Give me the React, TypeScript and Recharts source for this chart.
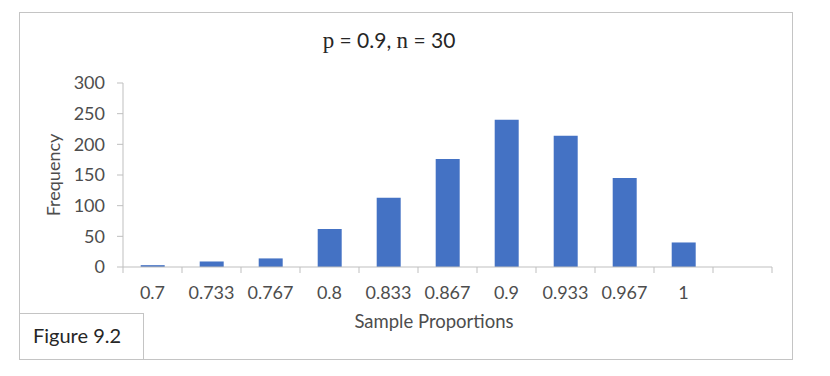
import React from 'react';
import { BarChart, Bar, XAxis, YAxis } from 'recharts';

const categories = ['0.7', '0.733', '0.767', '0.8', '0.833', '0.867', '0.9', '0.933', '0.967', '1', ''];
const frequencies: (number | null)[] = [3, 9, 14, 62, 113, 176, 240, 214, 145, 40, null];
const yTicks = [0, 50, 100, 150, 200, 250, 300];

const title = { p: 'p', pVal: ' = 0.9, ', n: 'n', nVal: ' = 30' };
const xLabel = 'Sample Proportions';
const yLabel = 'Frequency';
const figureLabel = 'Figure 9.2';

const data = categories.map((c, i) => ({ label: c, freq: frequencies[i] }));

const FONT = 'Lato, "Open Sans", sans-serif';
const AXIS = '#bfbfbf';
const TICK_TEXT = '#4d4d4d';

// Excel style: tick marks sit on the band edges, labels in the middle
const EdgeTick = (props: any) => {
  const { x, y, payload, index, visibleTicksCount } = props;
  const half = payload?.offset ?? 29.5;
  return (
    <g>
      <line x1={x - half} x2={x - half} y1={y} y2={y + 6} stroke={AXIS} />
      {index === visibleTicksCount - 1 && (
        <line x1={x + half} x2={x + half} y1={y} y2={y + 6} stroke={AXIS} />
      )}
      <text x={x} y={y + 19} dy="0.71em" textAnchor="middle" fill={TICK_TEXT} fontSize={18}>
        {payload.value}
      </text>
    </g>
  );
};

export default function App() {
  return (
    <div style={{ position: 'absolute', left: 0, top: 0, width: 830, height: 376, background: '#fff', fontFamily: FONT }}>
      <BarChart
        width={830}
        height={376}
        data={data}
        margin={{ top: 83, right: 58, bottom: 69, left: 63 }}
        barCategoryGap="30%"
      >
        <XAxis
          dataKey="label"
          height={40}
          interval={0}
          tickSize={0}
          tickMargin={0}
          tickLine={false}
          axisLine={{ stroke: AXIS }}
          tick={<EdgeTick />}
        />
        <YAxis
          width={60}
          domain={[0, 300]}
          ticks={yTicks}
          tickSize={6}
          tickMargin={12}
          axisLine={{ stroke: AXIS }}
          tickLine={{ stroke: AXIS }}
          tick={{ fill: TICK_TEXT, fontSize: 18 }}
          interval={0}
        />
        <Bar dataKey="freq" fill="#4472c4" isAnimationActive={false} />
      </BarChart>
      <svg width={830} height={376} style={{ position: 'absolute', left: 0, top: 0, pointerEvents: 'none' }}>
        <rect x={19.5} y={12.5} width={773} height={347} fill="none" stroke="#c4c4c4" />
        <text x={389} y={48} textAnchor="middle" fontSize={21} fill="#262626">
          <tspan fontFamily='"Liberation Serif", serif' fontSize={23}>{title.p}</tspan>
          <tspan>{title.pVal}</tspan>
          <tspan fontFamily='"Liberation Serif", serif' fontSize={23}>{title.n}</tspan>
          <tspan>{title.nVal}</tspan>
        </text>
        <text
          x={60}
          y={175}
          transform="rotate(-90 60 175)"
          textAnchor="middle"
          fontSize={18}
          fill={TICK_TEXT}
        >
          {yLabel}
        </text>
        <text x={434} y={328} textAnchor="middle" fontSize={18.5} fill={TICK_TEXT}>
          {xLabel}
        </text>
        <rect x={19.5} y={313.5} width={124} height={46} fill="#fff" stroke="#c4c4c4" />
        <text x={33} y={343} fontSize={20} fill="#262626">
          {figureLabel}
        </text>
      </svg>
    </div>
  );
}
